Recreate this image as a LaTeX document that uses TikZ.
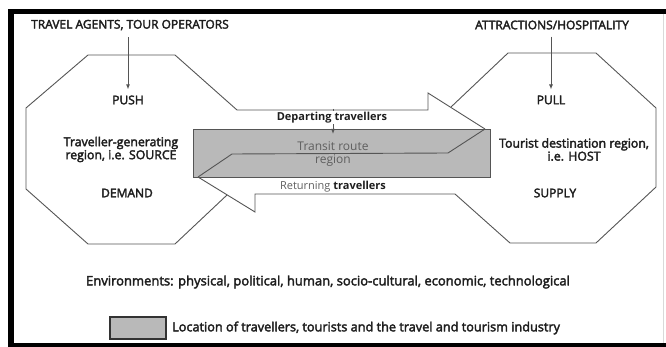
\documentclass[tikz,border=0pt]{standalone}
\usepackage{fontspec}
\setmainfont{Open Sans}
\usetikzlibrary{arrows.meta}
\newcommand\semiwt{\special{pdf:literal direct 2 Tr 0.35 w}}
\definecolor{linec}{RGB}{85,85,85}
\definecolor{fillg}{RGB}{185,185,185}
\definecolor{txt}{RGB}{30,30,30}
\definecolor{txtg}{RGB}{95,95,95}
\tikzset{
  lbl/.style={font=\fontsize{12.3}{13}\selectfont\semiwt, text=txt, inner sep=1pt, align=center},
  caps/.style={lbl, font=\fontsize{12}{13}\selectfont\semiwt},
  outline/.style={draw=linec, line width=0.9pt, line join=miter},
  arr/.style={draw=linec, line width=0.9pt, -{Latex[length=5pt,width=4pt]}},
  framebar/.style={fill=black, draw=none}
}
\begin{document}
\begin{tikzpicture}[x=1pt,y=-1pt]
\useasboundingbox (0,0) rectangle (666,347);
% frame
\fill[framebar] (8,9) rectangle (666,14);
\fill[framebar] (8,9) rectangle (14,344);
\fill[framebar] (8,343) rectangle (666,347);
\draw[black!15, line width=0.8pt] (663,14) -- (663,343);

% transit region rectangle
\node[draw=linec, fill=fillg, line width=0.9pt, minimum width=297pt, minimum height=48pt, inner sep=0pt] (transitbox) at (341.5,153) {};

% left octagon
\draw[outline] (237,110) -- (175,55) -- (88,55) -- (26,108) -- (26,189) -- (88,244) -- (175,244) -- (227,195);
% departing arrow top edge
\draw[outline] (237,110) -- (428,110) -- (428,93) -- (485,129);
% shared zigzag between arrows
\draw[outline] (198,177) -- (232,154) -- (448,153) -- (485,129);
% returning arrow lower edge and right octagon
\draw[outline] (198,177) -- (255,212) -- (255,194) -- (455,194) -- (510,243) -- (596,243) -- (656,187) -- (656,108) -- (596,53) -- (508,53) -- (451,107);

% texts
\node[caps] (ta) at (130,25) {TRAVEL AGENTS, TOUR OPERATORS};
\node[caps] (ah) at (552,25) {ATTRACTIONS/HOSPITALITY};
\node[caps] (push) at (128,100) {PUSH};
\node[caps] (pull) at (551,100) {PULL};
\node[lbl] (src) at (121,149.5) {Traveller-generating\\region, i.e. SOURCE};
\node[lbl] (host) at (574,149.5) {Tourist destination region,\\i.e. HOST};
\node[caps] (demand) at (127,193) {DEMAND};
\node[caps] (supply) at (555,193) {SUPPLY};

\coordinate (deptop) at (333,109);
\draw[arr] (deptop) -- (deptop |- {(0,134)});
\node[lbl, fill=white, font=\fontsize{11}{13}\selectfont\bfseries] (dep) at (332,118) {Departing travellers};
\node[lbl, text=txtg, font=\fontsize{12}{13.5}\selectfont] (transit) at (333,154) {Transit route\\region};
\node[lbl, font=\fontsize{11}{13}\selectfont] (ret) at (333,187) {\textcolor{txtg}{Returning} \textbf{travellers}};

\draw[arr] ([yshift=-6pt]push.north |- ta.south) -- ([yshift=5pt]push.north);
\draw[arr] ([yshift=-6pt]pull.north |- ah.south) -- ([yshift=5pt]pull.north);

\node[lbl, font=\fontsize{13}{15}\selectfont\semiwt] (env) at (328,282) {Environments: physical, political, human, socio-cultural, economic, technological};
\node[draw=black!80, fill=fillg, line width=1.2pt, minimum width=56pt, minimum height=22pt, inner sep=0pt] (legbox) at (138,328) {};
\node[lbl, anchor=west, font=\fontsize{12.7}{15}\selectfont\semiwt] (legtext) at (171,328) {Location of travellers, tourists and the travel and tourism industry};
\end{tikzpicture}
\end{document}
